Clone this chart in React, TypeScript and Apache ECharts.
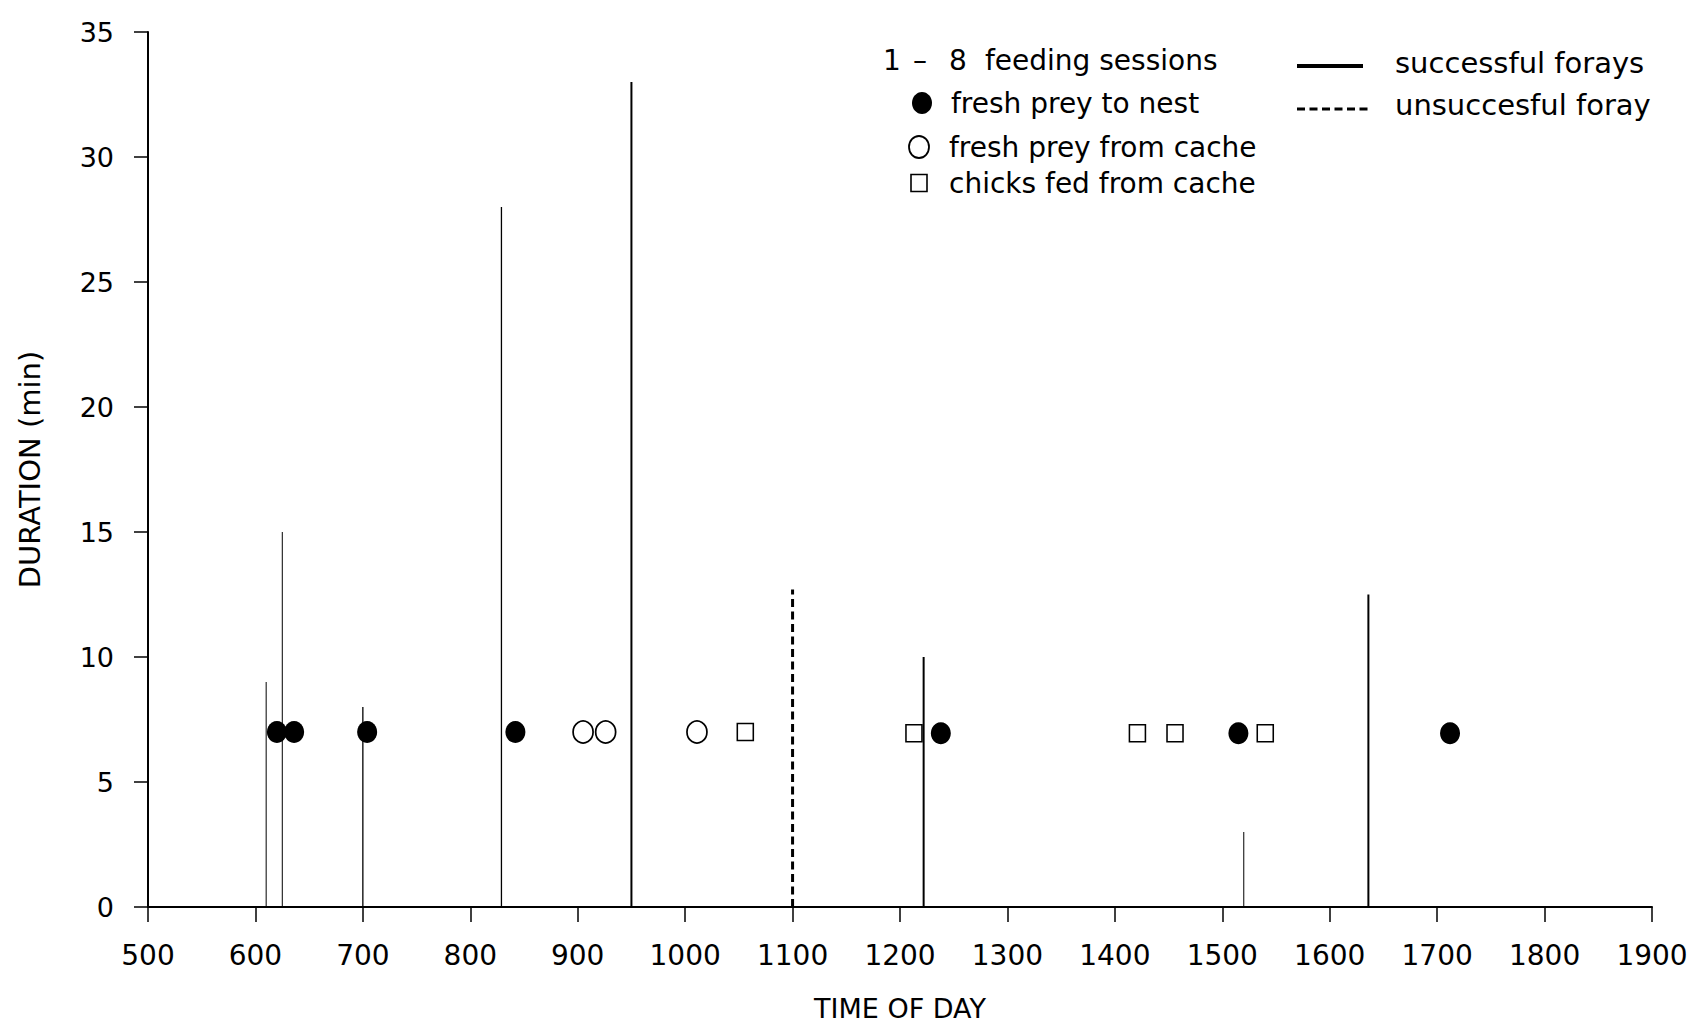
import React, { useEffect, useRef } from "react";
import * as echarts from "echarts";

// ---- data ----
const xTicks = [500, 1900, 100]; // min, max, interval
const yTicks = [0, 35, 5];

const successfulTimes = [610, 625, 700, 829, 950, 1222, 1520, 1636];
const successfulDurations = [9, 15, 8, 28, 33, 10, 3, 12.5];

const unsuccessfulTimes = [1100];
const unsuccessfulDurations = [12.7];

const freshToNestTimes = [620, 636, 704, 842, 1238, 1515, 1712];
const freshToNestY = [7, 7, 7, 7, 6.95, 6.95, 6.95];

const freshFromCacheTimes = [905, 926, 1011];
const freshFromCacheY = [7, 7, 7];

const chicksFedTimes = [1056, 1213, 1421, 1456, 1540];
const chicksFedY = [7, 6.95, 6.95, 6.95, 6.95];

// ---- styles ----
const successfulStroke = [1, 1, 1.3, 1.3, 2, 2, 1, 2];
const FONT = "DejaVu Sans";

export default function App() {
  const ref = useRef<HTMLDivElement>(null);

  useEffect(() => {
    if (!ref.current) return;
    const chart = echarts.init(ref.current, undefined, { renderer: "svg" });

    const stemItem = (widths: number[], dash: number[] | null) =>
      (params: any, api: any) => {
        const x = api.value(0);
        const y = api.value(1);
        const p0 = api.coord([x, 0]);
        const p1 = api.coord([x, y]);
        return {
          type: "line",
          shape: { x1: p0[0], y1: p0[1], x2: p1[0], y2: p1[1] },
          style: {
            stroke: "#000",
            lineWidth: widths[params.dataIndex] ?? 1,
            lineDash: dash || undefined,
          },
        };
      };

    const txt = (text: string, x: number, y: number, size = 28) => ({
      type: "text",
      x,
      y,
      style: {
        text,
        fill: "#000",
        font: `${size}px '${FONT}'`,
        textVerticalAlign: "middle",
        verticalAlign: "middle",
        textAlign: "left",
        align: "left",
      },
    });

    chart.setOption({
      animation: false,
      backgroundColor: "#fff",
      grid: {
        left: 148,
        right: 42,
        top: 32,
        bottom: 122,
        containLabel: false,
        outerBoundsMode: "none",
      },
      xAxis: {
        type: "value",
        min: xTicks[0],
        max: xTicks[1],
        interval: xTicks[2],
        name: "TIME OF DAY",
        nameLocation: "middle",
        nameGap: 88,
        nameTextStyle: { fontSize: 27, lineHeight: 26, color: "#000", fontFamily: FONT },
        axisLine: { show: true, lineStyle: { color: "#000", width: 2 } },
        axisTick: { show: true, length: 15, lineStyle: { color: "#000", width: 1.5 } },
        axisLabel: {
          fontSize: 28,
          color: "#000",
          margin: 34,
          fontFamily: FONT,
          formatter: (v: number) => String(v),
        },
        splitLine: { show: false },
      },
      yAxis: {
        type: "value",
        min: yTicks[0],
        max: yTicks[1],
        interval: yTicks[2],
        name: "DURATION (min)",
        nameLocation: "middle",
        nameGap: 104,
        nameTextStyle: { fontSize: 29, color: "#000", fontFamily: FONT },
        axisLine: { show: true, lineStyle: { color: "#000", width: 2 } },
        axisTick: { show: true, length: 14, lineStyle: { color: "#000", width: 1.5 } },
        axisLabel: {
          fontSize: 27,
          color: "#000",
          margin: 34,
          fontFamily: FONT,
          formatter: (v: number) => String(v),
        },
        splitLine: { show: false },
      },
      series: [
        {
          type: "custom",
          name: "successful forays",
          z: 2,
          renderItem: stemItem(successfulStroke, null),
          data: successfulTimes.map((t, i) => [t, successfulDurations[i]]),
        },
        {
          type: "custom",
          name: "unsuccesful foray",
          z: 2,
          renderItem: stemItem([3], [8, 4.5]),
          data: unsuccessfulTimes.map((t, i) => [t, unsuccessfulDurations[i]]),
        },
        {
          type: "scatter",
          name: "fresh prey to nest",
          z: 4,
          symbol: "circle",
          symbolSize: [20, 22],
          itemStyle: { color: "#000", borderColor: "#000", borderWidth: 0, opacity: 1 },
          data: freshToNestTimes.map((t, i) => [t, freshToNestY[i]]),
        },
        {
          type: "scatter",
          name: "fresh prey from cache",
          z: 4,
          symbol: "circle",
          symbolSize: [20, 22],
          itemStyle: { color: "#fff", borderColor: "#000", borderWidth: 1.8, opacity: 1 },
          data: freshFromCacheTimes.map((t, i) => [t, freshFromCacheY[i]]),
        },
        {
          type: "scatter",
          name: "chicks fed from cache",
          z: 4,
          symbol: "rect",
          symbolSize: [16, 17],
          itemStyle: { color: "#fff", borderColor: "#000", borderWidth: 1.6, opacity: 1 },
          data: chicksFedTimes.map((t, i) => [t, chicksFedY[i]]),
        },
      ],
      graphic: [
        txt("1", 883, 60),
        txt("–", 913, 60),
        txt("8", 949, 60),
        txt("feeding sessions", 985, 60),
        {
          type: "ellipse",
          shape: { cx: 922, cy: 103, rx: 10, ry: 11 },
          style: { fill: "#000" },
        },
        txt("fresh prey to nest", 951, 103),
        {
          type: "ellipse",
          shape: { cx: 919, cy: 147, rx: 10, ry: 11 },
          style: { fill: "#fff", stroke: "#000", lineWidth: 1.8 },
        },
        txt("fresh prey from cache", 949, 147),
        {
          type: "rect",
          shape: { x: 911, y: 174.5, width: 16, height: 17 },
          style: { fill: "#fff", stroke: "#000", lineWidth: 1.6 },
        },
        txt("chicks fed from cache", 949, 183),
        {
          type: "line",
          shape: { x1: 1297, y1: 66, x2: 1363, y2: 66 },
          style: { stroke: "#000", lineWidth: 4 },
        },
        txt("successful forays", 1395, 63, 29),
        {
          type: "line",
          shape: { x1: 1297, y1: 109, x2: 1370, y2: 109 },
          style: { stroke: "#000", lineWidth: 3, lineDash: [8, 4.5] },
        },
        txt("unsuccesful foray", 1395, 105, 29),
      ],
    });

    return () => chart.dispose();
  }, []);

  return (
    <div
      ref={ref}
      style={{ position: "absolute", left: 0, top: 0, width: 1694, height: 1029 }}
    />
  );
}
